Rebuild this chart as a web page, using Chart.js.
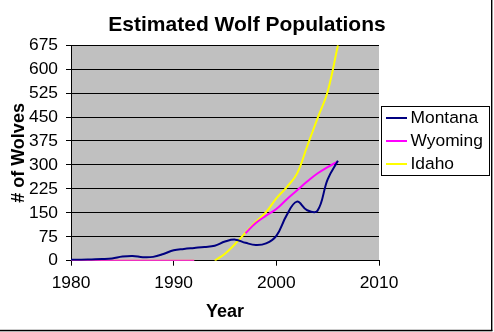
<!DOCTYPE html>
<html>
<head>
<meta charset="utf-8">
<script src="https://cdn.jsdelivr.net/npm/chart.js@4"></script>
<style>
html,body{margin:0;padding:0;background:#ffffff;}
#wrap{width:494px;height:332px;position:relative;}
canvas{display:block;}
</style>
</head>
<body>
<div id="wrap"><canvas id="c" width="494" height="332"></canvas></div>
<script>
// ---- data ----
const years = [1980,1981,1982,1983,1984,1985,1986,1987,1988,1989,1990,1991,1992,1993,1994,1995,1996,1997,1998,1999,2000,2001,2002,2003,2004,2005,2006];
const montana = [3,3,4,5,7,13,15,11,12,21,33,37,40,43,47,60,66,56,49,54,78,142,185,158,156,255,313];
const wyoming = [0,0,0,0,0,0,0,0,0,0,0,0,0,null,null,null,null,86,118,141,162,192,220,248,273,293,311];
const idaho   = [0,0,0,0,0,0,0,0,0,0,0,0,0,null,0,22,53,88,122,152,195,230,272,358,445,530,675];
const seriesNames = ['Montana','Wyoming','Idaho'];
const seriesColors = ['#000080','#FF00FF','#FFFF00'];
const xTickValues = [1980,1990,2000,2010];
const yTickValues = [0,75,150,225,300,375,450,525,600,675];
const chartTitle = 'Estimated Wolf Populations';
const xTitle = 'Year';
const yTitle = '# of Wolves';

const FONT = "'Liberation Sans', Arial, Helvetica, sans-serif";

function toPoints(arr){ return years.map((yr,i)=>({x:yr, y:arr[i]})); }

const plotBg = {
  id:'plotBg',
  beforeDraw(chart){
    const a = chart.chartArea, ctx = chart.ctx;
    ctx.save();
    ctx.fillStyle = '#C0C0C0';
    ctx.fillRect(a.left, a.top, a.right - a.left, a.bottom - a.top);
    ctx.restore();
  }
};

const boxLegend = {
  id:'boxLegend',
  afterDraw(chart){
    const ctx = chart.ctx;
    ctx.save();
    ctx.strokeStyle = '#000';
    ctx.lineWidth = 1;
    ctx.strokeRect(381.5, 106.5, 108, 69);
    ctx.font = '17.4px ' + FONT;
    ctx.textBaseline = 'middle';
    ctx.textAlign = 'left';
    chart.data.datasets.forEach((ds, i) => {
      const y = 118 + i * 23;
      ctx.fillStyle = ds.borderColor;
      ctx.fillRect(386, y - 1, 21, 2);
      ctx.fillStyle = '#000';
      ctx.fillText(ds.label, 410.5, y);
    });
    // frame lines (right and bottom)
    ctx.fillStyle = '#000';
    ctx.fillRect(491, 0, 1.4, 331);
    ctx.fillRect(0, 329.8, 492.4, 1.5);
    ctx.restore();
  }
};

new Chart(document.getElementById('c'), {
  type: 'line',
  data: {
    datasets: [
      {label: seriesNames[0], data: toPoints(montana), borderColor: seriesColors[0], backgroundColor: seriesColors[0]},
      {label: seriesNames[1], data: toPoints(wyoming), borderColor: seriesColors[1], backgroundColor: seriesColors[1]},
      {label: seriesNames[2], data: toPoints(idaho), borderColor: seriesColors[2], backgroundColor: seriesColors[2]}
    ]
  },
  options: {
    responsive: false,
    devicePixelRatio: 1,
    animation: false,
    layout: {padding: 0},
    elements: {
      line: {borderWidth: 2, tension: 0.4, fill: false},
      point: {radius: 0, hoverRadius: 0}
    },
    plugins: {
      legend: {display: false},
      tooltip: {enabled: false},
      title: {
        display: true,
        text: chartTitle,
        color: '#000',
        font: {family: FONT, size: 21, weight: 'bold', lineHeight: 1.2},
        padding: {top: 13, bottom: 7}
      }
    },
    scales: {
      x: {
        type: 'linear',
        min: 1980, max: 2010,
        afterBuildTicks(s){ s.ticks = xTickValues.map(v => ({value: v})); },
        afterFit(s){ s.height = 71.3; },
        ticks: {
          color: '#000',
          font: {family: FONT, size: 17.4},
          padding: 7,
          maxRotation: 0,
          callback: v => String(v)
        },
        grid: {display: true, drawOnChartArea: false, drawTicks: true, tickLength: 5, color: '#000', lineWidth: 1},
        border: {display: true, color: '#000', width: 1},
        title: {
          display: true, text: xTitle, color: '#000',
          font: {family: FONT, size: 18, weight: 'bold', lineHeight: 1.2},
          padding: {top: 0, bottom: 8.7}
        }
      },
      y: {
        type: 'linear',
        min: 0, max: 675,
        afterBuildTicks(s){ s.ticks = yTickValues.map(v => ({value: v})); },
        afterFit(s){ s.width = 71; },
        ticks: {
          color: '#000',
          font: {family: FONT, size: 17.4},
          padding: 8,
          callback: v => String(v)
        },
        grid: {display: true, drawOnChartArea: true, drawTicks: true, tickLength: 5, color: '#000', lineWidth: 1},
        border: {display: true, color: '#000', width: 1},
        title: {
          display: true, text: yTitle, color: '#000',
          font: {family: FONT, size: 18, weight: 'bold', lineHeight: 1.2},
          padding: {top: 8.2, bottom: 0}
        }
      },
      pad: {
        type: 'linear',
        position: 'right',
        display: true,
        afterFit(s){ s.width = 115; },
        ticks: {display: false},
        grid: {display: false},
        border: {display: false}
      }
    }
  },
  plugins: [plotBg, boxLegend]
});
</script>
</body>
</html>
